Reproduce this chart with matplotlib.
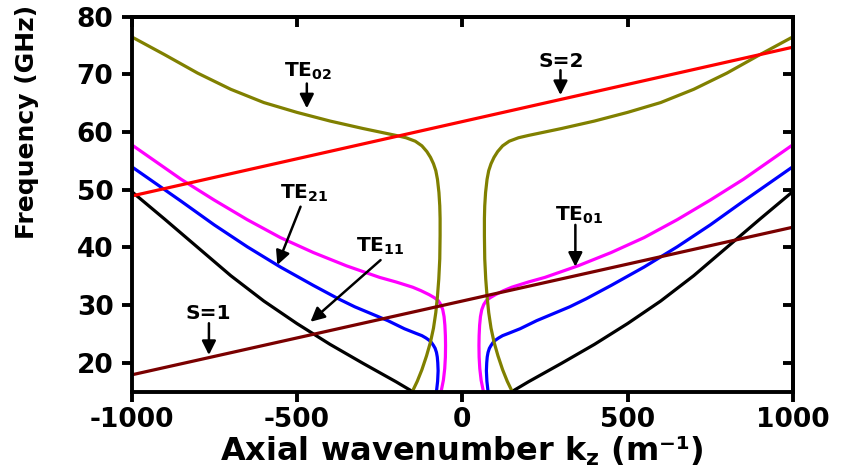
import matplotlib
matplotlib.use("Agg")
import matplotlib.pyplot as plt
import numpy as np

# Dispersion branches, kz >= 0 half (each branch is symmetric in kz)
te11_kz = [150, 200, 300, 400, 500, 600, 700, 800, 900, 1000]
te11_f = [15.0, 16.7, 19.9, 23.2, 26.8, 30.7, 35.1, 40.0, 44.9, 49.7]

te21_kz = [78, 74.5, 73, 74, 75.5, 78, 82, 87, 93, 100, 110, 122, 140, 175,
           225, 275, 325, 375, 450, 550, 650, 750, 850, 1000]
te21_f = [15.0, 16.8, 18.6, 20.0, 21.0, 21.8, 22.5, 23.0, 23.5, 23.9, 24.3,
          24.7, 25.1, 25.9, 27.3, 28.5, 29.7, 31.1, 33.4, 36.6, 40.1, 43.9,
          48.0, 54.0]

te01_kz = [64, 57, 53, 51, 50.5, 51, 52.5, 55, 59, 65, 73, 85, 100, 125, 150,
           200, 250, 350, 450, 550, 650, 750, 850, 1000]
te01_f = [15.0, 17.0, 19.0, 21.0, 23.0, 24.7, 26.5, 28.0, 29.2, 30.1, 30.8,
          31.3, 31.8, 32.5, 33.1, 34.0, 34.8, 36.8, 39.1, 41.7, 44.8, 48.2,
          51.8, 57.8]

te02_kz = [151, 136, 122, 108, 96, 87, 80, 75, 71, 68, 67, 67, 68, 70.5, 75,
           80, 87, 96, 107, 122, 142, 170, 200, 250, 300, 400, 500, 600, 700,
           800, 900, 1000]
te02_f = [15.0, 16.8, 18.8, 21.2, 23.6, 26.0, 28.7, 31.5, 34.5, 38.0, 42.0,
          45.0, 47.2, 49.5, 51.8, 53.3, 54.5, 55.6, 56.6, 57.6, 58.4, 59.0,
          59.4, 60.0, 60.6, 61.9, 63.4, 65.1, 67.4, 70.2, 73.4, 76.5]

# Beam-wave harmonic lines
beam_kz = [-1000, 1000]
s1_f = [17.9, 43.5]
s2_f = [48.9, 74.7]

x_ticks = [-1000, -500, 0, 500, 1000]
y_ticks = [20, 30, 40, 50, 60, 70, 80]

plt.rcParams["font.family"] = ["DejaVu Sans"]
plt.rcParams["font.weight"] = "bold"
plt.rcParams["mathtext.fontset"] = "dejavusans"
plt.rcParams["mathtext.default"] = "bf"
plt.rcParams["axes.unicode_minus"] = False

fig = plt.figure(figsize=(8.41, 4.74), dpi=100)
ax = fig.add_axes([0.1564, 0.1738, 0.7865, 0.7912])

lw = 2.3
branches = [
    (te11_kz, te11_f, "black"),
    (te21_kz, te21_f, "#0000FF"),
    (te01_kz, te01_f, "#FF00FF"),
    (te02_kz, te02_f, "#808000"),
]
for kz, f, col in branches:
    kz = np.asarray(kz, dtype=float)
    ax.plot(kz, f, color=col, lw=lw, solid_capstyle="butt",
            solid_joinstyle="round")
    ax.plot(-kz, f, color=col, lw=lw, solid_capstyle="butt",
            solid_joinstyle="round")

ax.plot(beam_kz, s1_f, color="#7A0000", lw=lw)
ax.plot(beam_kz, s2_f, color="#FF0000", lw=lw)

ax.set_xlim(-1000, 1000)
ax.set_ylim(15, 80)
ax.set_xticks(x_ticks)
ax.set_yticks(y_ticks)

for sp in ax.spines.values():
    sp.set_linewidth(2.8)

ax.tick_params(axis="x", direction="out", length=7, width=2.8,
               labelsize=19, pad=4)
ax.tick_params(axis="y", direction="out", length=7, width=2.8,
               labelsize=19, pad=6)
for lab in ax.get_xticklabels() + ax.get_yticklabels():
    lab.set_fontweight("bold")

# Inward ticks on the top and right edges
top = ax.secondary_xaxis("top")
top.set_xticks(x_ticks)
top.tick_params(direction="in", length=7, width=2.8, labeltop=False)
top.spines["top"].set_linewidth(2.8)
right = ax.secondary_yaxis("right")
right.set_yticks(y_ticks)
right.tick_params(direction="in", length=7, width=2.8, labelright=False)
right.spines["right"].set_linewidth(2.8)

ax.set_xlabel("Axial wavenumber k$_z$ (m\u207b\u00b9)", fontsize=23,
              fontweight="bold", labelpad=1)
ax.set_ylabel("Frequency (GHz)", fontsize=18, fontweight="bold")
ax.yaxis.set_label_coords(-0.14, 0.72)

# Mode and harmonic labels with arrows
labels = [
    (r"TE$_{02}$", -465, 69.6, (-470, 68.4), (-470, 64.1)),
    ("S=2", 299, 71.3, (297, 70.7), (297, 66.4)),
    (r"TE$_{21}$", -479, 48.5, (-489, 47.05), (-559, 36.95)),
    (r"TE$_{11}$", -247, 39.25, (-247, 37.8), (-459, 27.1)),
    (r"TE$_{01}$", 355, 44.6, (342, 43.9), (342, 36.65)),
    ("S=1", -768, 27.5, (-766, 26.85), (-766, 21.35)),
]
for text, tx, ty, start, tip in labels:
    ax.text(tx, ty, text, fontsize=14.5, fontweight="bold",
            ha="center", va="baseline", color="black")
    ax.annotate("", xy=tip, xytext=start,
                arrowprops=dict(arrowstyle="-|>,head_length=0.6,head_width=0.3",
                                color="black", lw=1.8, mutation_scale=14,
                                shrinkA=0, shrinkB=0))

fig.savefig("out.png", dpi=100)
